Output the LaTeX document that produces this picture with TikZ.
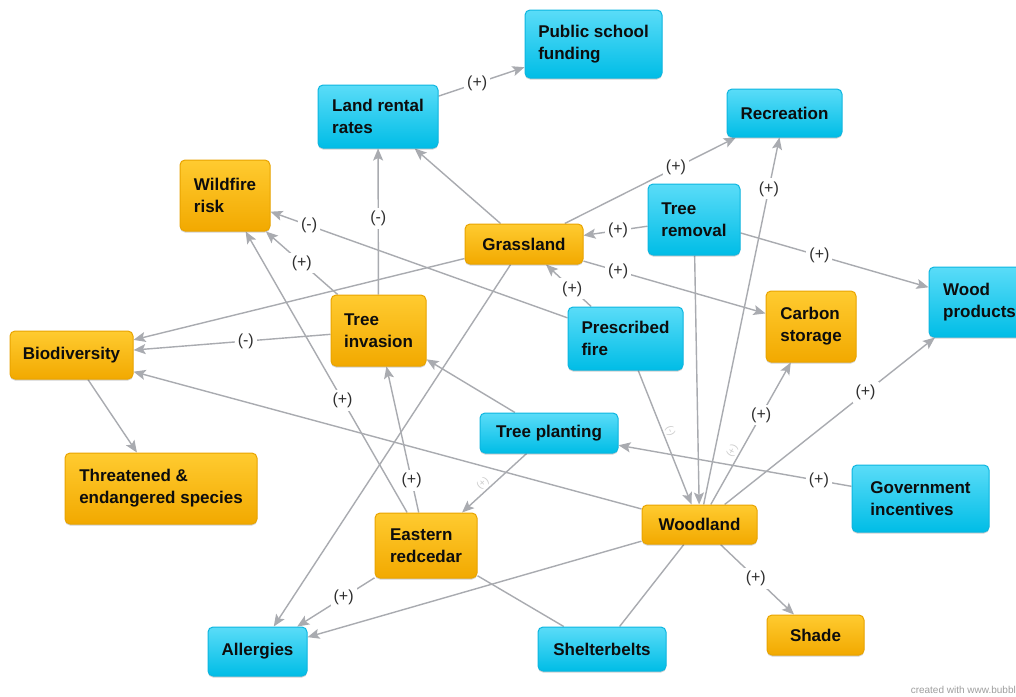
\documentclass[tikz,border=0pt]{standalone}
\usepackage{fontspec}
\setmainfont{Liberation Sans}
\usetikzlibrary{arrows.meta,shadows}
\definecolor{ortop}{HTML}{FFCB30}
\definecolor{orbot}{HTML}{F2A900}
\definecolor{ordraw}{HTML}{E9A400}
\definecolor{cytop}{HTML}{5ADCF8}
\definecolor{cybot}{HTML}{00BDE6}
\definecolor{cydraw}{HTML}{0DB6E0}
\definecolor{linkgray}{HTML}{A9ABB0}
\definecolor{labgray}{HTML}{2E2E2E}
\pgfdeclarelayer{canvas}
\pgfdeclarelayer{background}
\pgfsetlayers{canvas,background,main}
\tikzset{
  box/.style={rounded corners=5pt, line width=1pt, align=left, inner sep=0pt,
    font=\bfseries\fontsize{17}{22}\selectfont, text=black!95,
    drop shadow={shadow xshift=0pt, shadow yshift=-1.5pt, opacity=.18, fill=black}},
  obox/.style={box, draw=ordraw, top color=ortop, bottom color=orbot},
  cbox/.style={box, draw=cydraw, top color=cytop, bottom color=cybot},
  link/.style={draw=linkgray, line width=1.4pt, -{Stealth[length=12pt,width=10pt,inset=2.5pt]}},
  plain/.style={draw=linkgray, line width=1.4pt},
  lab/.style={fill=white, inner sep=3pt, font=\fontsize{16}{16}\selectfont, text=labgray},
  faint/.style={sloped, above, inner sep=2pt, font=\fontsize{10}{10}\selectfont, text=black!20}
}
\begin{document}
\begin{tikzpicture}[x=1pt,y=-1pt]
\useasboundingbox (0,0) rectangle (1016,696);
\begin{pgfonlayer}{canvas}
\fill[white] (0,0) rectangle (1016,696);
\end{pgfonlayer}

% concept boxes
\node[cbox, minimum width=137pt, minimum height=68pt] (psf) at (593.5,44)  {Public school\\funding};
\node[cbox, minimum width=120pt, minimum height=63pt] (lrr) at (378,116.5) {Land rental\\rates};
\node[cbox, minimum width=115pt, minimum height=48pt] (rec) at (784.5,113) {Recreation};
\node[obox, minimum width=90pt,  minimum height=71pt] (wr)  at (225,195.5) {Wildfire\\risk};
\node[obox, minimum width=118pt, minimum height=40pt] (gr)  at (524,244)   {Grassland};
\node[cbox, minimum width=92pt,  minimum height=71pt] (tr)  at (694,219.5) {Tree\\removal};
\node[cbox, minimum width=101pt, minimum height=70pt] (wp)  at (979.5,302) {Wood\\products};
\node[obox, minimum width=90pt,  minimum height=71pt] (cs)  at (811,326.5) {Carbon\\storage};
\node[obox, minimum width=123pt, minimum height=48pt] (bio) at (71.5,355)  {Biodiversity};
\node[obox, minimum width=95pt,  minimum height=71pt] (ti)  at (378.5,330.5) {Tree\\invasion};
\node[cbox, minimum width=115pt, minimum height=63pt] (pf)  at (625.5,338.5) {Prescribed\\fire};
\node[cbox, minimum width=138pt, minimum height=40pt] (tp)  at (549,433)   {Tree planting};
\node[obox, minimum width=192pt, minimum height=71pt] (tes) at (161,488.5) {Threatened \&\\endangered species};
\node[obox, minimum width=102pt, minimum height=65pt] (er)  at (426,545.5) {Eastern\\redcedar};
\node[obox, minimum width=115pt, minimum height=39pt] (wl)  at (699.5,524.5) {Woodland};
\node[cbox, minimum width=137pt, minimum height=67pt] (gi)  at (920.5,498.5) {Government\\incentives};
\node[cbox, minimum width=99pt,  minimum height=49pt] (al)  at (257.5,651.5) {Allergies};
\node[cbox, minimum width=128pt, minimum height=44pt] (sb)  at (602,649)   {Shelterbelts};
\node[obox, minimum width=97pt,  minimum height=40pt] (sh)  at (815.5,635) {Shade};

\node[anchor=base east, inner sep=0pt, font=\fontsize{10}{10}\selectfont, text=black!38] (credit) at (1016,693) {created with www.bubbl};

% connectors
\begin{pgfonlayer}{background}
\draw[link] (lrr) -- node[lab,pos=.45]{(+)} (psf);
\draw[link] (gr) -- (lrr);
\draw[link] (ti) -- node[lab,pos=.52]{(-)} (lrr);
\draw[link] (gr) -- node[lab,pos=.65]{(+)} (rec);
\draw[link] (wl) -- node[lab,pos=.86]{(+)} (rec);
\draw[link] (tr) -- node[lab,pos=.46]{(+)} (gr);
\draw[link] (tr) -- node[lab,pos=.42]{(+)} (wp);
\draw[link] (gr) -- node[lab,pos=.19]{(+)} (cs);
\draw[link] (pf) -- node[lab,pos=.42]{(+)} (gr);
\draw[link] (pf) -- node[lab,pos=.87]{(-)} (wr);
\draw[link] (ti) -- node[lab,pos=.5]{(+)} (wr);
\draw[link] (er) -- node[lab,pos=.4]{(+)} (wr);
\draw[link] (gr) -- (bio);
\draw[link] (ti) -- node[lab,pos=.43]{(-)} (bio);
\draw[link] (wl) -- (bio);
\draw[link] (bio) -- (tes);
\draw[link] (tp) -- (ti);
\draw[link] (er) -- node[lab,pos=.22]{(+)} (ti);
\draw[link] (tp) -- node[faint,pos=.6]{(+)} (er);
\draw[link] (gi) -- node[lab,pos=.14]{(+)} (tp);
\draw[link] (gr) -- (al);
\draw[link] (er) -- node[lab,pos=.4]{(+)} (al);
\draw[link] (wl) -- (al);
\draw[plain] (er) -- (sb);
\draw[plain] (wl) -- (sb);
\draw[link] (wl) -- node[lab,pos=.48]{(+)} (sh);
\draw[link] (wl) -- node[faint,pos=.35]{(+)} node[lab,pos=.63]{(+)} (cs);
\draw[link] (wl) -- node[lab,pos=.67]{(+)} (wp);
\draw[link] (tr) -- (wl);
\draw[link] (pf) -- node[faint,pos=.47]{(-)} (wl);
\end{pgfonlayer}
\end{tikzpicture}
\end{document}
